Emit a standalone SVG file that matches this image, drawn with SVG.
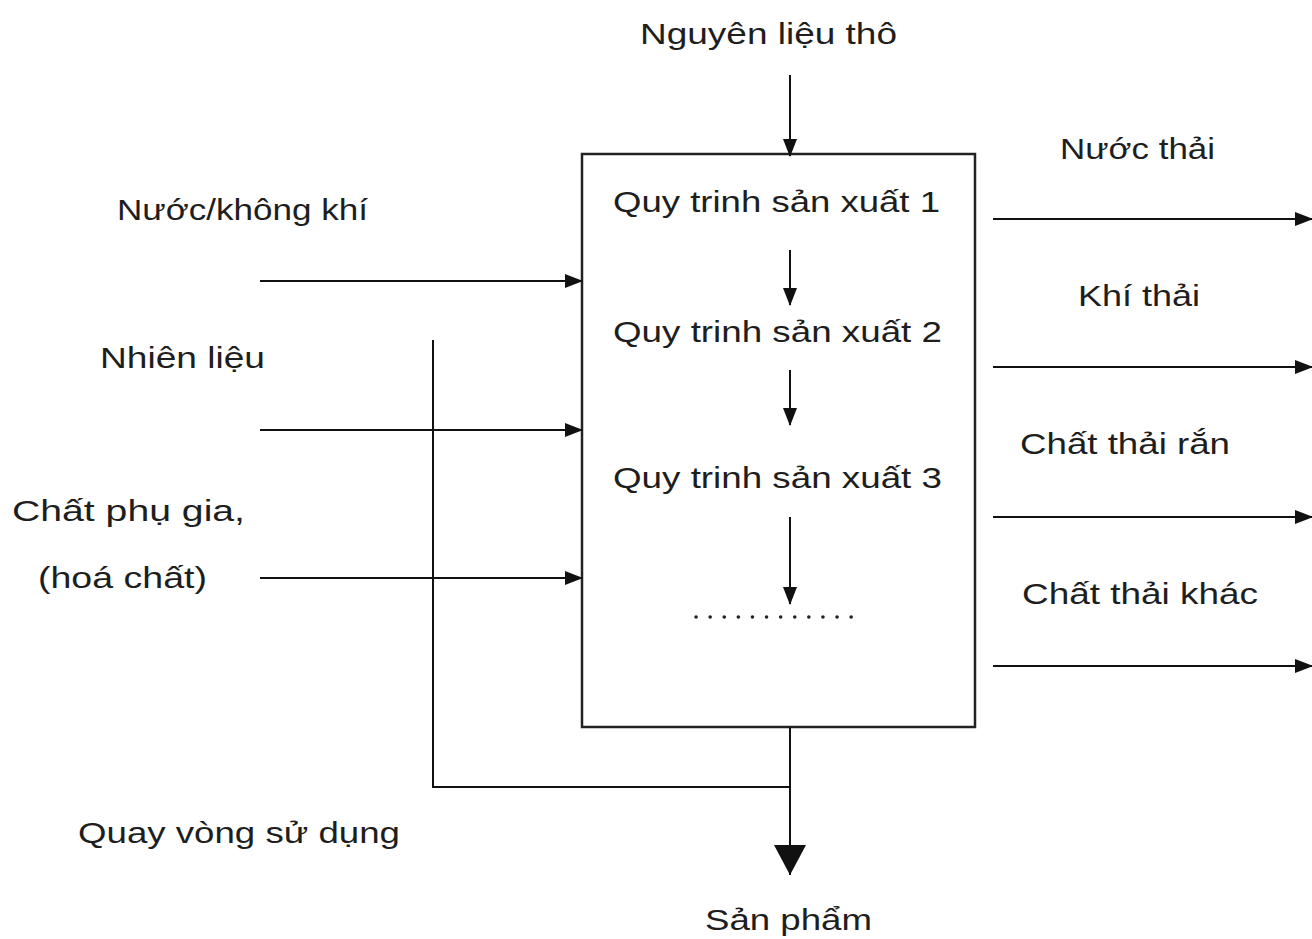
<svg xmlns="http://www.w3.org/2000/svg" width="1312" height="939" viewBox="0 0 1312 939">
<style>
text{font-family:"Liberation Sans",Arial,sans-serif;fill:#1e1e1e;font-size:29px}
.ln{stroke:#111;stroke-width:2;fill:none}
.box{stroke:#222;stroke-width:2.5;fill:#fff}
</style>
<defs>
<marker id="ah" markerUnits="userSpaceOnUse" markerWidth="18" markerHeight="14" refX="17" refY="7" orient="auto">
<path d="M0,0 L18,7 L0,14 Z" fill="#111"/>
</marker>
<marker id="big" markerUnits="userSpaceOnUse" markerWidth="30" markerHeight="32" refX="30" refY="16" orient="auto">
<path d="M0,0 L30,16 L0,32 Z" fill="#111"/>
</marker>
</defs>
<rect width="1312" height="939" fill="#fff"/>

<g id="process-box">
<rect class="box" x="582" y="154" width="393" height="573"/>
<text x="613" y="212" textLength="327" lengthAdjust="spacingAndGlyphs">Quy trinh sản xuất 1</text>
<text x="613" y="342" textLength="329" lengthAdjust="spacingAndGlyphs">Quy trinh sản xuất 2</text>
<text x="613" y="488" textLength="329" lengthAdjust="spacingAndGlyphs">Quy trinh sản xuất 3</text>
<line x1="696" y1="617" x2="864" y2="617" stroke="#222" stroke-width="3.5" stroke-dasharray="0.1,14" stroke-linecap="round"/>
</g>

<g id="input-raw"><text x="640" y="44" textLength="257" lengthAdjust="spacingAndGlyphs">Nguyên liệu thô</text></g>
<g id="input-water"><text x="117" y="220" textLength="251" lengthAdjust="spacingAndGlyphs">Nước/không khí</text></g>
<g id="input-fuel"><text x="100" y="368" textLength="165" lengthAdjust="spacingAndGlyphs">Nhiên liệu</text></g>
<g id="input-additive">
<text x="12" y="521" textLength="233" lengthAdjust="spacingAndGlyphs">Chất phụ gia,</text>
<text x="38" y="588" textLength="169" lengthAdjust="spacingAndGlyphs">(hoá chất)</text>
</g>
<g id="recycle"><text x="78" y="843" textLength="322" lengthAdjust="spacingAndGlyphs">Quay vòng sử dụng</text></g>
<g id="product"><text x="705" y="930" textLength="167" lengthAdjust="spacingAndGlyphs">Sản phẩm</text></g>
<g id="out-wastewater"><text x="1060" y="159" textLength="155" lengthAdjust="spacingAndGlyphs">Nước thải</text></g>
<g id="out-gas"><text x="1078" y="306" textLength="122" lengthAdjust="spacingAndGlyphs">Khí thải</text></g>
<g id="out-solid"><text x="1020" y="454" textLength="210" lengthAdjust="spacingAndGlyphs">Chất thải rắn</text></g>
<g id="out-other"><text x="1022" y="604" textLength="236" lengthAdjust="spacingAndGlyphs">Chất thải khác</text></g>

<g id="connectors">
<line class="ln" x1="790" y1="75" x2="790" y2="156" marker-end="url(#ah)"/>
<line class="ln" x1="790" y1="250" x2="790" y2="305" marker-end="url(#ah)"/>
<line class="ln" x1="790" y1="370" x2="790" y2="425" marker-end="url(#ah)"/>
<line class="ln" x1="790" y1="517" x2="790" y2="604" marker-end="url(#ah)"/>
<line class="ln" x1="260" y1="281" x2="582" y2="281" marker-end="url(#ah)"/>
<line class="ln" x1="260" y1="430" x2="582" y2="430" marker-end="url(#ah)"/>
<line class="ln" x1="260" y1="578" x2="582" y2="578" marker-end="url(#ah)"/>
<line class="ln" x1="993" y1="219" x2="1312" y2="219" marker-end="url(#ah)"/>
<line class="ln" x1="993" y1="367" x2="1312" y2="367" marker-end="url(#ah)"/>
<line class="ln" x1="993" y1="517" x2="1312" y2="517" marker-end="url(#ah)"/>
<line class="ln" x1="993" y1="666" x2="1312" y2="666" marker-end="url(#ah)"/>
<polyline class="ln" points="433,340 433,787 790,787"/>
<line class="ln" x1="790" y1="727" x2="790" y2="875" marker-end="url(#big)"/>
</g>
</svg>
